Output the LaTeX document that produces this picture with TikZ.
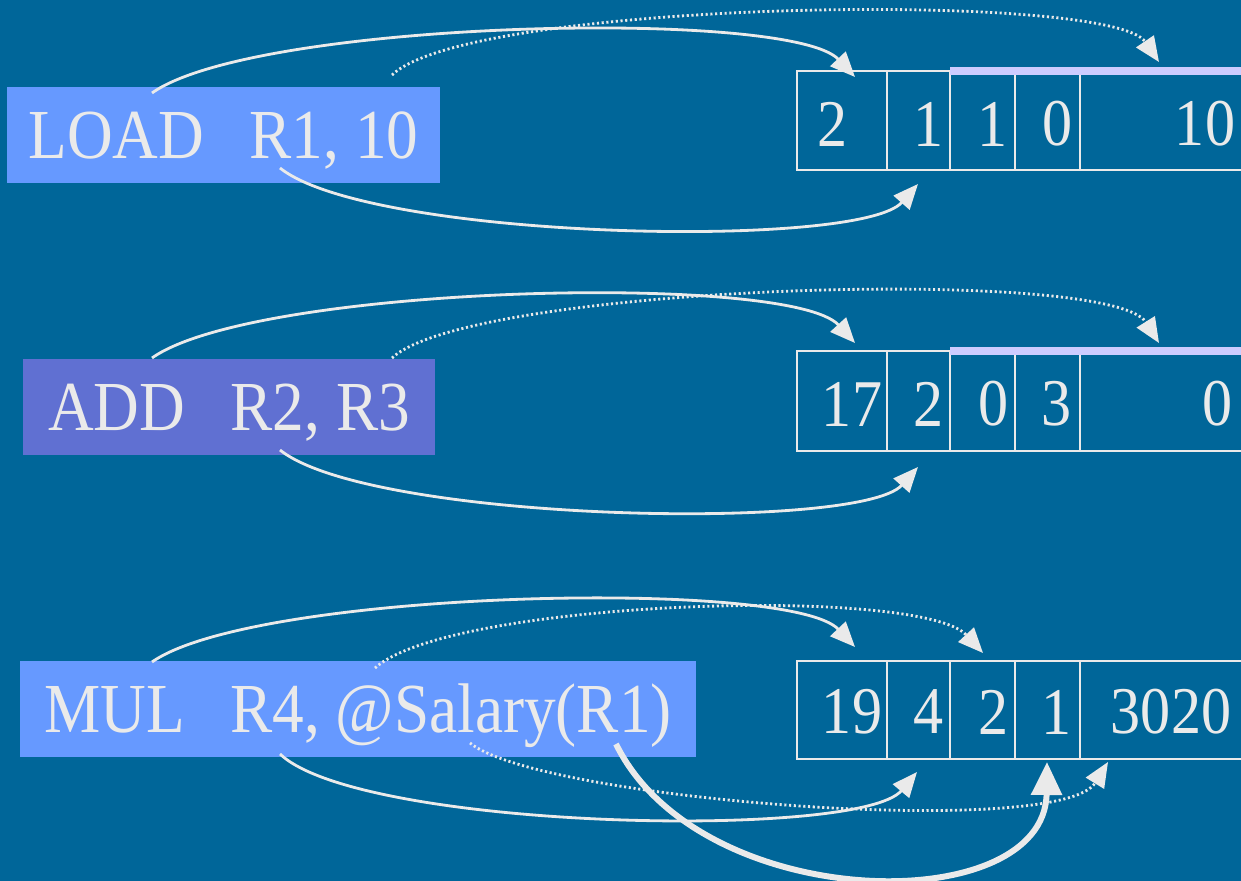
\documentclass[tikz,border=0pt]{standalone}
\usepackage{fontspec}
\setmainfont{Liberation Serif}[FakeStretch=0.9]
\usetikzlibrary{arrows.meta}
\definecolor{slidebg}{HTML}{006699}
\definecolor{instrblue}{HTML}{6699FF}
\definecolor{instrviolet}{HTML}{6070D2}
\definecolor{chalk}{HTML}{EAEAEA}
\definecolor{lavender}{HTML}{CCCCFF}
\begin{document}
\begin{tikzpicture}[x=0.02cm, y=-0.02cm]
\tikzstyle{instr}=[text=chalk, inner sep=0, minimum height=1.92cm, text height=0.94cm, text depth=0pt, font=\fontsize{40}{44}\selectfont];
\tikzstyle{val}=[text=chalk, inner sep=0, font=\fontsize{38}{40}\selectfont];
\tikzstyle{cell}=[draw=chalk, line width=1.4pt];
\tikzstyle{bar}=[draw=lavender, line width=4.8pt];
\tikzstyle{link}=[draw=chalk, line width=1.6pt, -{Triangle[length=0.5cm, width=0.42cm]}];
\tikzstyle{dots}=[link, dash pattern=on 1.2pt off 1.5pt];
\tikzstyle{heavy}=[draw=chalk, line width=3.4pt, -{Triangle[length=0.66cm, width=0.6cm]}];
\useasboundingbox (0,0) rectangle (1241,881);
\fill[slidebg] (0,0) rectangle (1241,881);
\clip (0,0) rectangle (1241,881);
% instructions
\node [instr, fill=instrblue, minimum width=8.66cm] (load) at (223.5,135) {LOAD\hspace{0.65em}R1, 10};
\node [instr, fill=instrviolet, minimum width=8.24cm] (add) at (229,407) {ADD\hspace{0.65em}R2, R3};
\node [instr, fill=instrblue, minimum width=13.52cm] (mul) at (358,709) {MUL\hspace{0.65em}R4, @Salary(R1)};
% instruction words
\foreach \ya/\yb in {71/170, 351/451, 661/759} {
  \draw[cell] (797,\ya) rectangle (1262,\yb);
  \foreach \xx in {887,950,1015,1080} \draw[cell] (\xx,\ya) -- (\xx,\yb);
}
\draw[bar] (950,71) -- (1262,71);
\draw[bar] (950,351) -- (1262,351);
\node [val] (w1a) at (833,124) {2};
\node [val] (w1b) at (929,124) {1};
\node [val] (w1c) at (993,124) {1};
\node [val] (w1d) at (1058,124) {0};
\node [val] (w1e) at (1205,124) {10};
\node [val] (w2a) at (852,404) {17};
\node [val] (w2b) at (929,404) {2};
\node [val] (w2c) at (994,404) {0};
\node [val] (w2d) at (1057,404) {3};
\node [val] (w2e) at (1218,404) {0};
\node [val] (w3a) at (852,712) {19};
\node [val] (w3b) at (929,712) {4};
\node [val] (w3c) at (994,712) {2};
\node [val] (w3d) at (1057,712) {1};
\node [val] (w3e) at (1171,712) {3020};
% arrow ends
\coordinate (load-op) at (152,93);
\coordinate (load-r) at (280,168);
\coordinate (load-n) at (392,75);
\coordinate (add-op) at (152,358);
\coordinate (add-r) at (280,450);
\coordinate (add-s) at (392,358);
\coordinate (mul-op) at (152,662);
\coordinate (mul-r) at (280,754);
\coordinate (mul-at) at (375,668);
\coordinate (mul-sal) at (470,743);
\coordinate (mul-r1) at (616,744);
\coordinate (w1-op) at (855,77);
\coordinate (w1-r) at (918,184);
\coordinate (w1-n) at (1159,62);
\coordinate (w2-op) at (855,343);
\coordinate (w2-r) at (918,467);
\coordinate (w2-s) at (1159,343);
\coordinate (w3-op) at (855,647);
\coordinate (w3-r) at (917,772);
\coordinate (w3-at) at (983,653);
\coordinate (w3-sal) at (1108,762);
\coordinate (w3-r1) at (1047,762);
\draw[link] (load-op) .. controls (255,20) and (790,8) .. (w1-op);
\draw[dots] (load-n) .. controls (470,0) and (1110,-10) .. (w1-n);
\draw[link] (load-r) .. controls (370,240) and (860,250) .. (w1-r);
\draw[link] (add-op) .. controls (255,285) and (790,272) .. (w2-op);
\draw[dots] (add-s) .. controls (470,285) and (1110,265) .. (w2-s);
\draw[link] (add-r) .. controls (370,522) and (860,532) .. (w2-r);
\draw[link] (mul-op) .. controls (255,590) and (790,578) .. (w3-op);
\draw[dots] (mul-at) .. controls (450,600) and (920,585) .. (w3-at);
\draw[link] (mul-r) .. controls (360,830) and (860,840) .. (w3-r);
\draw[dots] (mul-sal) .. controls (540,800) and (1060,840) .. (w3-sal);
\draw[heavy] (mul-r1) .. controls (700,915) and (1045,920) .. (w3-r1);
\end{tikzpicture}
\end{document}
